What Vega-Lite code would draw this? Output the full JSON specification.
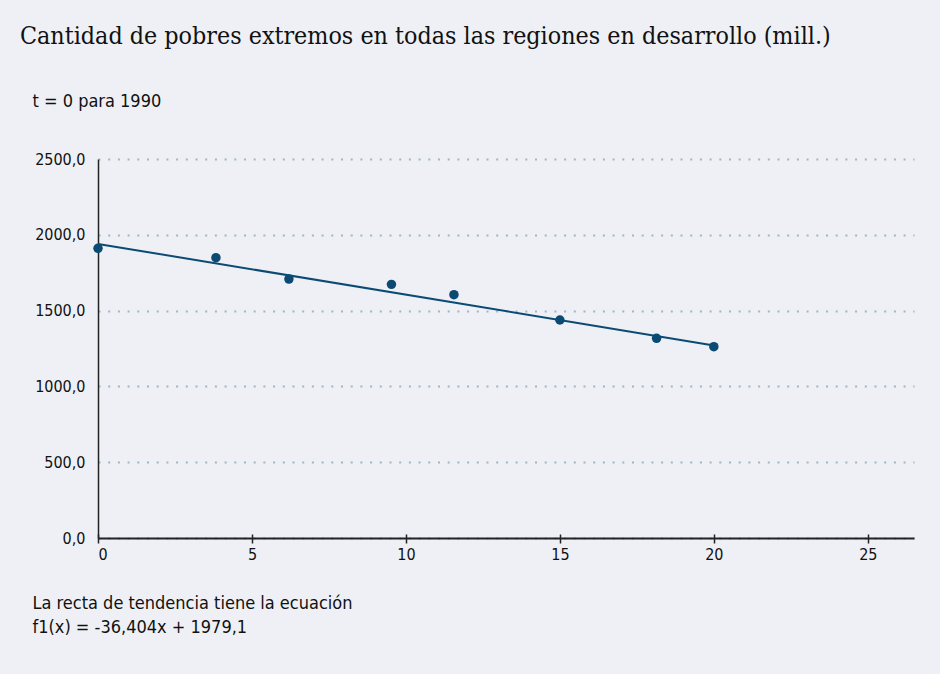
{
  "$schema": "https://vega.github.io/schema/vega-lite/v6.json",
  "width": 816,
  "height": 379,
  "autosize": {"type": "none"},
  "padding": {"left": 98, "top": 159, "right": 26, "bottom": 136},
  "background": "#eef0f5",
  "config": {
    "view": {"stroke": null},
    "font": "DejaVu Sans Condensed, Liberation Sans, sans-serif"
  },
  "title": {
    "text": "Cantidad de pobres extremos en todas las regiones en desarrollo (mill.)",
    "anchor": "start",
    "frame": "group",
    "dx": -78,
    "offset": 43,
    "font": "DejaVu Serif Condensed, DejaVu Serif, serif",
    "fontSize": 24.8,
    "fontWeight": "normal",
    "color": "#111111"
  },
  "datasets": {
    "points": [
      {"t": 0, "pobres": 1911},
      {"t": 3.83, "pobres": 1849},
      {"t": 6.2, "pobres": 1708},
      {"t": 9.53, "pobres": 1673},
      {"t": 11.56, "pobres": 1605},
      {"t": 15, "pobres": 1438},
      {"t": 18.14, "pobres": 1317},
      {"t": 20, "pobres": 1262}
    ],
    "trend": [
      {"t": 0, "pobres": 1940},
      {"t": 20, "pobres": 1270}
    ]
  },
  "layer": [
    {
      "data": {"name": "trend"},
      "mark": {"type": "line", "color": "#0b4a72", "strokeWidth": 2},
      "encoding": {
        "x": {
          "field": "t", "type": "quantitative",
          "scale": {"domain": [0, 26.5], "nice": false, "zero": false},
          "axis": {
            "orient": "bottom",
            "values": [0, 5, 10, 15, 20, 25],
            "tickSize": -4, "tickColor": "#222222", "tickWidth": 1.5,
            "labels": false, "domain": false, "grid": false, "title": null
          }
        },
        "y": {
          "field": "pobres", "type": "quantitative",
          "scale": {"domain": [0, 2500], "nice": false},
          "axis": {
            "values": [0, 500, 1000, 1500, 2000, 2500],
            "labelExpr": "replace(format(datum.value, '.1f'), '.', ',')",
            "labelFontSize": 16,
            "labelColor": "#111111",
            "labelPadding": 13,
            "ticks": false,
            "domainColor": "#222222",
            "domainWidth": 1.5,
            "grid": true,
            "gridColor": "#9cb7c9",
            "gridWidth": 2,
            "gridDash": [2, 7.7],
            "title": "t = 0 para 1990",
            "titleAngle": 0,
            "titleAlign": "left",
            "titleBaseline": "middle",
            "titleX": -66,
            "titleY": -58,
            "titleFontSize": 18,
            "titleFontWeight": "normal",
            "titleColor": "#111111"
          }
        }
      }
    },
    {
      "data": {"name": "points"},
      "mark": {"type": "circle", "color": "#0b4a72", "opacity": 1, "size": 90},
      "encoding": {
        "x": {
          "field": "t", "type": "quantitative",
          "axis": {
            "orient": "bottom",
            "values": [0, 5, 10, 15, 20, 25],
            "tickSize": 5, "tickColor": "#222222", "tickWidth": 1.5,
            "domainColor": "#222222", "domainWidth": 2,
            "labelFontSize": 16, "labelColor": "#111111", "labelPadding": 3,
            "grid": false,
            "title": ["La recta de tendencia tiene la ecuación", "f1(x) = -36,404x + 1979,1"],
            "titleAnchor": "start",
            "titleAlign": "left",
            "titleBaseline": "middle",
            "titleX": -66,
            "titleY": 65,
            "titleLineHeight": 24,
            "titleFontSize": 18,
            "titleFontWeight": "normal",
            "titleColor": "#111111"
          }
        },
        "y": {"field": "pobres", "type": "quantitative"}
      }
    }
  ],
  "resolve": {"axis": {"x": "independent"}}
}
